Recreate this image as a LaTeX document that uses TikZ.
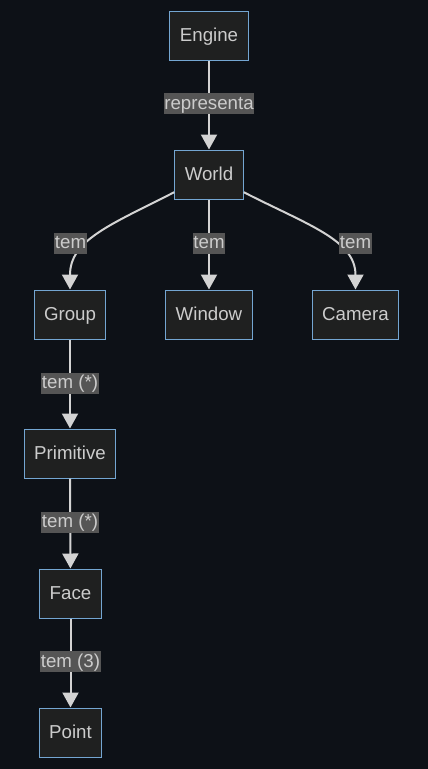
\documentclass[tikz,border=0pt]{standalone}
\usepackage{fontspec}
\setmainfont{Liberation Sans}
\usetikzlibrary{arrows.meta}
\definecolor{bgc}{HTML}{0D1117}
\definecolor{nodefill}{HTML}{1F2020}
\definecolor{nodeborder}{HTML}{74A6D2}
\definecolor{txt}{HTML}{CCCCCC}
\definecolor{edgecol}{HTML}{D3D3D3}
\definecolor{lblbg}{HTML}{555555}
\begin{document}
\begin{tikzpicture}[x=1pt,y=-1pt,
  box/.style={draw=nodeborder, fill=nodefill, text=txt, line width=1pt,
    minimum height=49pt, inner xsep=10pt, inner ysep=0pt,
    text height=15pt, text depth=2.5pt,
    font=\fontsize{18.7}{22}\selectfont},
  lbl/.style={fill=lblbg, text=txt, inner xsep=0.5pt, inner ysep=2pt,
    text height=14pt, text depth=3pt, font=\fontsize{18.7}{22}\selectfont},
  conn/.style={draw=edgecol, line width=2pt, -{Triangle[width=16pt,length=15pt]}}]
\useasboundingbox[fill=bgc] (0,0) rectangle (428,769);
\node[box] (engine) at (209,35.5) {Engine};
\node[box] (world) at (209,174.5) {World};
\node[box] (group) at (70,314.5) {Group};
\node[box] (window) at (209,314.5) {Window};
\node[box] (camera) at (355.5,314.5) {Camera};
\node[box] (primitive) at (70,453.5) {Primitive};
\node[box] (face) at (70.5,593.5) {Face};
\node[box] (point) at (70.5,732.5) {Point};

\draw[conn] (engine) -- (world);
\draw[conn] (world.207) .. controls (110,225) and (70,240) .. (group.north);
\draw[conn] (world) -- (window);
\draw[conn] (world.333) .. controls (308,225) and (355.5,240) .. (camera.north);
\draw[conn] (group) -- (primitive);
\draw[conn] (primitive) -- (face);
\draw[conn] (face) -- (point);

\node[lbl] (l1) at (209,103.5) {representa};
\node[lbl] (l2) at (70.5,243) {tem};
\node[lbl] (l3) at (209,243) {tem};
\node[lbl] (l4) at (355.5,243) {tem};
\node[lbl] (l5) at (70,383) {tem (*)};
\node[lbl] (l6) at (70,522) {tem (*)};
\node[lbl] (l7) at (70.5,661.5) {tem (3)};
\end{tikzpicture}
\end{document}
